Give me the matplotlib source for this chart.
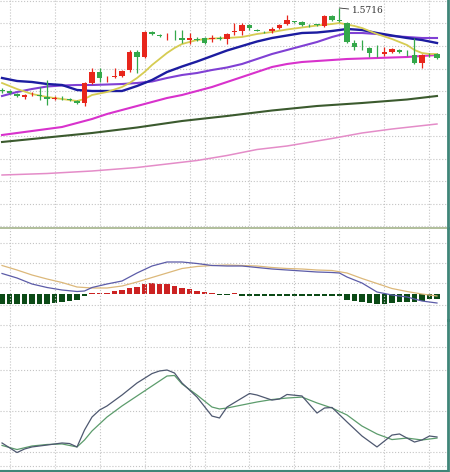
import matplotlib
matplotlib.use("Agg")          # headless
import matplotlib.pyplot as plt
import numpy as np

# ── Candles (59 bars) ─────────────────────────────────────────────────────────
OPEN = [1.5553, 1.5550, 1.5544, 1.5538, 1.5543, 1.5542, 1.5538, 1.5534, 1.5536, 1.5534,
        1.5530, 1.5526, 1.5566, 1.5588, 1.5577, 1.5578, 1.5580, 1.5592, 1.5628, 1.5618,
        1.5668, 1.5662, 1.5657, 1.5660, 1.5656, 1.5652, 1.5654, 1.5656, 1.5655, 1.5656,
        1.5654, 1.5669, 1.5670, 1.5682, 1.5673, 1.5668, 1.5670, 1.5676, 1.5684, 1.5689,
        1.5688, 1.5680, 1.5683, 1.5680, 1.5700, 1.5692, 1.5686, 1.5646, 1.5642, 1.5636,
        1.5626, 1.5624, 1.5628, 1.5632, 1.5626, 1.5622, 1.5606, 1.5622, 1.5624]
HIGH = [1.5556, 1.5552, 1.5546, 1.5544, 1.5548, 1.5558, 1.5572, 1.5540, 1.5540, 1.5536,
        1.5532, 1.5568, 1.5596, 1.5596, 1.5580, 1.5596, 1.5592, 1.5632, 1.5632, 1.5670,
        1.5670, 1.5664, 1.5666, 1.5672, 1.5672, 1.5666, 1.5658, 1.5658, 1.5662, 1.5660,
        1.5666, 1.5686, 1.5686, 1.5684, 1.5674, 1.5670, 1.5678, 1.5684, 1.5702, 1.5690,
        1.5690, 1.5684, 1.5684, 1.5702, 1.5702, 1.5716, 1.5688, 1.5652, 1.5652, 1.5638,
        1.5642, 1.5638, 1.5636, 1.5634, 1.5632, 1.5656, 1.5624, 1.5626, 1.5626]
LOW = [1.5546, 1.5544, 1.5538, 1.5534, 1.5540, 1.5532, 1.5522, 1.5532, 1.5532, 1.5530,
       1.5524, 1.5520, 1.5564, 1.5568, 1.5568, 1.5576, 1.5578, 1.5588, 1.5586, 1.5616,
       1.5662, 1.5658, 1.5652, 1.5652, 1.5646, 1.5644, 1.5650, 1.5644, 1.5648, 1.5652,
       1.5644, 1.5662, 1.5662, 1.5672, 1.5670, 1.5666, 1.5666, 1.5674, 1.5682, 1.5686,
       1.5680, 1.5678, 1.5680, 1.5678, 1.5690, 1.5688, 1.5646, 1.5632, 1.5632, 1.5618,
       1.5618, 1.5620, 1.5626, 1.5626, 1.5620, 1.5604, 1.5596, 1.5618, 1.5614]
CLOSE = [1.5551, 1.5546, 1.5540, 1.5542, 1.5544, 1.5540, 1.5534, 1.5536, 1.5535, 1.5533,
         1.5526, 1.5566, 1.5588, 1.5576, 1.5578, 1.5579, 1.5590, 1.5628, 1.5618, 1.5668,
         1.5664, 1.5659, 1.5658, 1.5659, 1.5652, 1.5656, 1.5653, 1.5646, 1.5656, 1.5655,
         1.5664, 1.5671, 1.5682, 1.5676, 1.5671, 1.5667, 1.5674, 1.5682, 1.5692, 1.5687,
         1.5682, 1.5679, 1.5681, 1.5700, 1.5692, 1.5691, 1.5648, 1.5638, 1.5641, 1.5626,
         1.5625, 1.5628, 1.5634, 1.5628, 1.5625, 1.5606, 1.5622, 1.5621, 1.5616]

HIGH_LABEL = "1.5716"

# ── Moving averages (read at sampled bars) ────────────────────────────────────
MA_Y_IDX = [0, 2, 4, 6, 8, 10, 11, 12, 14, 16, 17, 18, 19, 20, 21, 22, 23, 24, 26, 28,
            30, 32, 34, 36, 38, 40, 42, 44, 45, 46, 47, 48, 50, 52, 54, 55, 56, 57, 58]
MA_Y = [1.5566, 1.5554, 1.5544, 1.5538, 1.5534, 1.5530, 1.5534, 1.5542, 1.5548, 1.5558,
        1.5566, 1.5576, 1.5588, 1.5602, 1.5614, 1.5626, 1.5636, 1.5644, 1.5652, 1.5655,
        1.5656, 1.5658, 1.5664, 1.5668, 1.5673, 1.5677, 1.5681, 1.5684, 1.5686, 1.5683,
        1.5680, 1.5676, 1.5664, 1.5654, 1.5642, 1.5632, 1.5626, 1.5624, 1.5624]

MA_B_IDX = list(range(0, 59, 2))
MA_B = [1.5576, 1.5570, 1.5568, 1.5564, 1.5562, 1.5552, 1.5550, 1.5550, 1.5550, 1.5560,
        1.5572, 1.5588, 1.5599, 1.5609, 1.5620, 1.5631, 1.5640, 1.5649, 1.5656, 1.5661,
        1.5666, 1.5667, 1.5670, 1.5674, 1.5672, 1.5666, 1.5661, 1.5656, 1.5652, 1.5646]

MA_P_IDX = list(range(0, 59, 2))
MA_P = [1.5540, 1.5548, 1.5554, 1.5559, 1.5561, 1.5562, 1.5562, 1.5563, 1.5564, 1.5566,
        1.5569, 1.5576, 1.5582, 1.5586, 1.5592, 1.5597, 1.5604, 1.5614, 1.5624, 1.5632,
        1.5640, 1.5648, 1.5658, 1.5666, 1.5666, 1.5664, 1.5660, 1.5658, 1.5656, 1.5656]

MA_M_IDX = [0, 4, 8, 10, 12, 14, 16, 18, 20, 22, 24, 26, 28, 30, 32, 34, 36, 38, 40, 42,
            44, 46, 50, 54, 58]
MA_M = [1.5462, 1.5470, 1.5478, 1.5486, 1.5494, 1.5504, 1.5512, 1.5520, 1.5528, 1.5536,
        1.5542, 1.5550, 1.5558, 1.5568, 1.5578, 1.5588, 1.5598, 1.5604, 1.5608, 1.5610,
        1.5612, 1.5614, 1.5616, 1.5618, 1.5622]

MA_G_IDX = [0, 6, 12, 18, 24, 30, 36, 42, 48, 54, 58]
MA_G = [1.5448, 1.5457, 1.5466, 1.5477, 1.5490, 1.5500, 1.5511, 1.5520, 1.5526, 1.5533, 1.5540]

MA_K_IDX = [0, 6, 12, 18, 22, 26, 30, 34, 38, 44, 48, 52, 58]
MA_K = [1.5382, 1.5385, 1.5390, 1.5397, 1.5404, 1.5411, 1.5421, 1.5433, 1.5440, 1.5455,
        1.5466, 1.5474, 1.5484]

# ── MACD ──────────────────────────────────────────────────────────────────────
MACD_HIST = [-0.0010, -0.0010, -0.00105, -0.00105, -0.0010, -0.0010, -0.0010, -0.0009,
             -0.0008, -0.0007, -0.00065, -0.00025, 0.0001, 0.0001, 0.0001, 0.00025,
             0.0004, 0.0006, 0.0007, 0.0010, 0.0011, 0.0010, 0.00095, 0.0008, 0.0006,
             0.00045, 0.0003, 0.00015, 0.0001, -0.0001, -0.0001, 0.0001, -0.0002, -0.0002,
             -0.0002, -0.0002, -0.0002, -0.0002, -0.0002, -0.0002, -0.0002, -0.0002,
             -0.0002, -0.0002, -0.00025, -0.00025, -0.00065, -0.00075, -0.00085, -0.0009,
             -0.0010, -0.0010, -0.00095, -0.00085, -0.0008, -0.0008, -0.0007, -0.0005,
             -0.0005]
DIF_IDX = [0, 2, 4, 6, 8, 10, 11, 12, 14, 16, 18, 20, 22, 24, 26, 28, 30, 32, 34, 36,
           38, 40, 42, 44, 45, 46, 48, 50, 52, 54, 56, 58]
DIF = [0.0020, 0.00155, 0.00095, 0.0006, 0.00035, 0.0002, 0.00025, 0.0006, 0.00095,
       0.00125, 0.00205, 0.00275, 0.00315, 0.00315, 0.0030, 0.0028, 0.00275, 0.00275,
       0.0026, 0.00245, 0.00235, 0.00225, 0.00215, 0.0021, 0.00205, 0.00165, 0.00105,
       0.00015, -0.00015, -0.00035, -0.00075, -0.00095]
DEA_IDX = list(range(0, 59, 2))
DEA = [0.0028, 0.00235, 0.00185, 0.00145, 0.0011, 0.00065, 0.00055, 0.00055, 0.00075,
       0.00115, 0.0016, 0.00205, 0.0025, 0.0027, 0.0028, 0.00285, 0.0028, 0.00275, 0.0026,
       0.0025, 0.00245, 0.00235, 0.0023, 0.00205, 0.0015, 0.0010, 0.0005, 0.0002,
       -0.00005, -0.00025]

# ── Stochastic K / D ──────────────────────────────────────────────────────────
K_IDX = [0, 2, 3, 4, 6, 8, 9, 10, 11, 12, 13, 14, 16, 18, 20, 21, 22, 23, 24, 26,
         28, 29, 30, 32, 33, 34, 36, 37, 38, 40, 42, 43, 44, 46, 48, 50, 52, 53, 54, 55,
         56, 57, 58]
K = [26.6, 19.6, 22.2, 23.7, 25.1, 26.6, 26.2, 23.7, 36.1, 45.6, 50.7, 53.7, 61.7, 70.5,
     77.4, 79.3, 80.0, 77.8, 70.5, 60.2, 46.3, 44.9, 52.9, 59.5, 62.8, 61.7, 58.0, 58.8,
     62.1, 61.0, 48.5, 52.2, 52.6, 42.0, 31.7, 23.7, 32.4, 33.2, 30.2, 27.3, 28.8, 31.7,
     31.0]
D_IDX = [0, 2, 4, 6, 8, 10, 11, 12, 14, 16, 18, 20, 22, 23, 24, 26, 28, 29, 30, 32,
         34, 36, 38, 40, 42, 44, 46, 48, 50, 52, 54, 56, 58]
D = [24.8, 21.8, 24.4, 25.5, 25.9, 23.7, 28.8, 35.4, 45.6, 53.7, 61.0, 68.3, 75.6, 76.0,
     69.8, 61.7, 52.9, 51.5, 52.2, 54.4, 56.6, 58.4, 59.5, 60.2, 55.9, 52.2, 47.1, 39.0,
     33.2, 29.1, 30.2, 28.8, 30.2]

# ── Style ─────────────────────────────────────────────────────────────────────
UP_COL    = "#e8261c"
DOWN_COL  = "#34a84a"
GRID      = dict(color="#c4c4c4", linestyle=":", linewidth=0.8)
EDGE_COL  = "#3f8578"
GRID_BARS = [1, 7, 13, 19, 25, 27, 33, 39, 45, 51, 57]
XLIM      = (-0.27, 59.47)

W, H = 450, 472
fig = plt.figure(figsize=(W / 100, H / 100), dpi=100)
ax_p = fig.add_axes([0, 244 / H, 448 / W, 228 / H])
ax_m = fig.add_axes([0, 152 / H, 448 / W, 92 / H])
ax_k = fig.add_axes([0, 1 / H, 448 / W, 151 / H])

for ax in (ax_p, ax_m, ax_k):
    ax.set_xlim(*XLIM)
    ax.set_xticks(GRID_BARS)
    ax.grid(True, **GRID)
    ax.tick_params(length=0, labelleft=False, labelbottom=False)
    for s in ("top", "left", "bottom"):
        ax.spines[s].set_visible(False)
    ax.spines["right"].set_color(EDGE_COL)
    ax.spines["right"].set_linewidth(2)
    ax.set_facecolor("none")

# ── Price panel ───────────────────────────────────────────────────────────────
ax_p.set_ylim(1.5276, 1.5732)
ax_p.set_yticks([1.5730 - 0.0045 * k for k in range(11)])
ax_p.spines["bottom"].set_visible(True)
ax_p.spines["bottom"].set_color("#a3b38a")
ax_p.spines["bottom"].set_linewidth(1.2)

ax_p.plot(MA_K_IDX, MA_K, color="#e48cc8", lw=1.1)
ax_p.plot(MA_G_IDX, MA_G, color="#3b5a2e", lw=1.5)
ax_p.plot(MA_M_IDX, MA_M, color="#d832cc", lw=1.5)
ax_p.plot(MA_P_IDX, MA_P, color="#8040d4", lw=1.5)
ax_p.plot(MA_B_IDX, MA_B, color="#1c1ca0", lw=1.7)
ax_p.plot(MA_Y_IDX, MA_Y, color="#d6cc52", lw=1.3)

o, h, l, c = map(np.array, (OPEN, HIGH, LOW, CLOSE))
xs = np.arange(len(o))
cols = np.where(c >= o, UP_COL, DOWN_COL)
ax_p.vlines(xs, l, h, colors=cols, lw=0.9, zorder=3)
ax_p.bar(xs, np.maximum(np.abs(c - o), 0.00018), bottom=np.minimum(o, c),
         width=0.72, color=cols, lw=0, zorder=4)

top = int(np.argmax(h))
ax_p.annotate(HIGH_LABEL, xy=(xs[top], h[top]), xytext=(xs[top] + 1.6, h[top] - 0.0006),
              fontsize=6.5, family="DejaVu Serif", color="#333333", va="center",
              arrowprops=dict(arrowstyle="-", lw=0.6, color="#333333",
                              shrinkA=0, shrinkB=0))

# ── MACD panel ────────────────────────────────────────────────────────────────
ax_m.set_ylim(-0.00265, 0.00655)
ax_m.set_yticks([0.00505, 0.00305, 0.00105, -0.00115])
hist = np.array(MACD_HIST)
ax_m.bar(np.arange(len(hist)), hist, width=0.75,
         color=np.where(hist >= 0, "#cc2222", "#0b4a16"), lw=0)
ax_m.plot(DEA_IDX, DEA, color="#dcb87a", lw=0.9)
ax_m.plot(DIF_IDX, DIF, color="#5c5ca8", lw=0.9)

# ── K / D panel ───────────────────────────────────────────────────────────────
ax_k.set_ylim(6.1, 116.6)
ax_k.set_yticks([112.9, 96.8, 80, 50, 20, 9.8])
ax_k.spines["bottom"].set_visible(True)
ax_k.spines["bottom"].set_color(EDGE_COL)
ax_k.spines["bottom"].set_linewidth(1.5)
ax_k.plot(D_IDX, D, color="#5c9c6c", lw=0.9)
ax_k.plot(K_IDX, K, color="#4e5870", lw=0.9)

fig.savefig("out.png", dpi=100)
